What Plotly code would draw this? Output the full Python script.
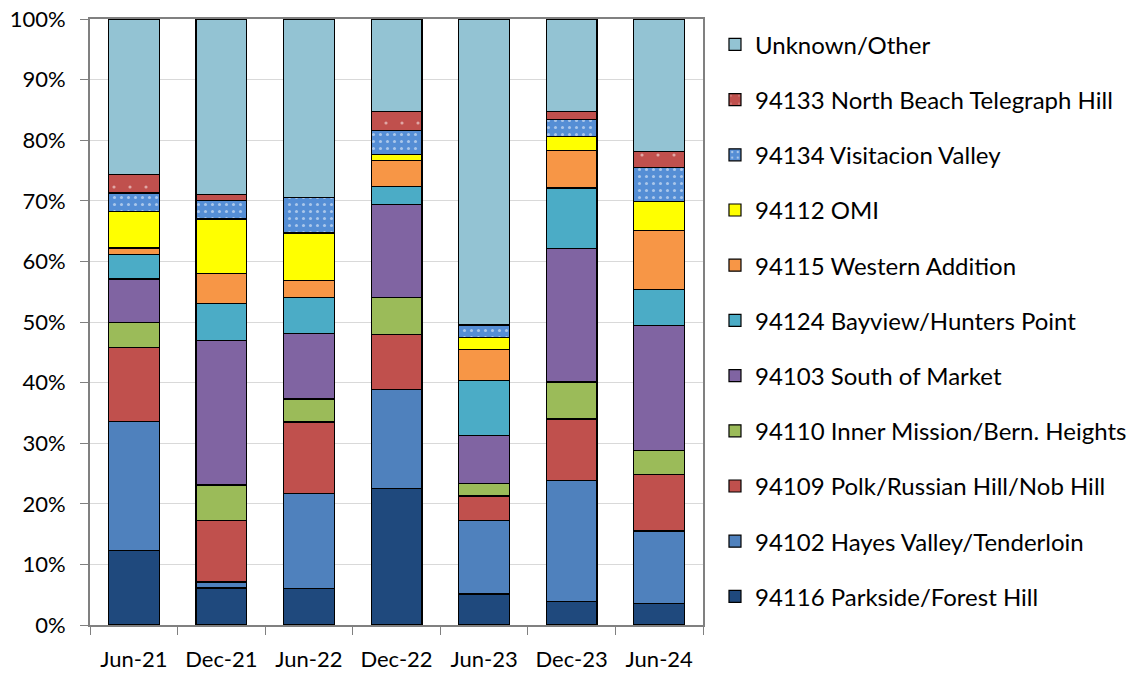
import plotly.graph_objects as go

periods = ["Jun-21", "Dec-21", "Jun-22", "Dec-22", "Jun-23", "Dec-23", "Jun-24"]

# share of cases by zip code, percent (bottom of stack first)
parkside = [12.3, 6.1, 6.0, 22.5, 5.1, 3.9, 3.5]
hayes_valley = [21.3, 1.0, 15.7, 16.3, 12.1, 19.9, 12.0]
polk_russian = [12.2, 10.1, 11.8, 9.2, 4.1, 10.2, 9.4]
inner_mission = [4.1, 5.9, 3.8, 6.1, 2.0, 6.1, 3.9]
south_of_market = [7.2, 23.9, 10.8, 15.3, 8.0, 22.0, 20.6]
bayview = [4.1, 6.0, 5.9, 3.0, 9.1, 10.0, 5.9]
western_addition = [1.0, 5.0, 2.9, 4.2, 5.1, 6.2, 9.8]
omi = [6.1, 9.0, 7.8, 1.0, 2.0, 2.3, 4.8]
visitacion = [3.0, 3.0, 5.9, 4.0, 2.0, 2.8, 5.6]
north_beach = [3.1, 1.1, 0.0, 3.1, 0.0, 1.3, 2.6]
unknown = [25.5, 28.9, 29.4, 15.3, 50.4, 15.3, 21.9]

series = [
    ("94116 Parkside/Forest Hill", parkside, "#1F497D", None),
    ("94102 Hayes Valley/Tenderloin", hayes_valley, "#4F81BD", None),
    ("94109 Polk/Russian Hill/Nob Hill", polk_russian, "#C0504D", None),
    ("94110 Inner Mission/Bern. Heights", inner_mission, "#9BBB59", None),
    ("94103 South of Market", south_of_market, "#8064A2", None),
    ("94124 Bayview/Hunters Point", bayview, "#4BACC6", None),
    ("94115 Western Addition", western_addition, "#F79646", None),
    ("94112 OMI", omi, "#FFFF00", None),
    ("94134 Visitacion Valley", visitacion, "#558ED5", dict(shape=".", fgcolor="white", bgcolor="#558ED5", size=7, solidity=0.15)),
    ("94133 North Beach Telegraph Hill", north_beach, "#C0504D", dict(shape=".", fgcolor="white", bgcolor="#C0504D", size=16, solidity=0.03)),
    ("Unknown/Other", unknown, "#93C3D3", None),
]

fig = go.Figure()
n = len(series)
for i, (name, vals, color, pattern) in enumerate(series):
    marker = dict(color=color, line=dict(color="black", width=1.2))
    if pattern:
        marker["pattern"] = pattern
    # legend reads top-down from Unknown/Other, so rank is reversed
    fig.add_trace(go.Bar(x=periods, y=vals, name=name, marker=marker,
                         legendgroup=f"g{n - i:02d}", legendrank=n - i))

font_family = "Lato, 'Open Sans', sans-serif"
fig.update_layout(
    barmode="stack",
    bargap=0.42,
    width=1134, height=676,
    margin=dict(l=90, r=431, t=19, b=51),
    plot_bgcolor="white",
    paper_bgcolor="white",
    font=dict(family=font_family, size=22, color="black"),
    legend=dict(
        traceorder="grouped",
        xref="container", yref="container",
        x=0.6305, xanchor="left",
        y=0.967, yanchor="top",
        tracegroupgap=21,
        maxheight=660,
        font=dict(size=24),
    ),
    showlegend=True,
)
fig.update_yaxes(
    range=[0, 100], dtick=10, ticksuffix="%",
    showgrid=True, gridcolor="#D9D9D9", gridwidth=1,
    showline=True, linecolor="#808080", linewidth=2, mirror=True,
    ticks="outside", ticklen=8, tickcolor="#808080",
    ticklabelstandoff=10, ticklabeloverflow="allow",
    zeroline=False, automargin=False,
)
fig.update_xaxes(
    showline=True, linecolor="#808080", linewidth=2, mirror=True,
    ticks="outside", ticklen=8, tickcolor="#808080", tickson="boundaries",
    ticklabelstandoff=14, ticklabeloverflow="allow",
    automargin=False,
)

# drop the default 8px page margin so the figure sits at the window corner
fig.write_html("out.html", config={"displayModeBar": False},
               post_script="document.body.style.margin='0';")
